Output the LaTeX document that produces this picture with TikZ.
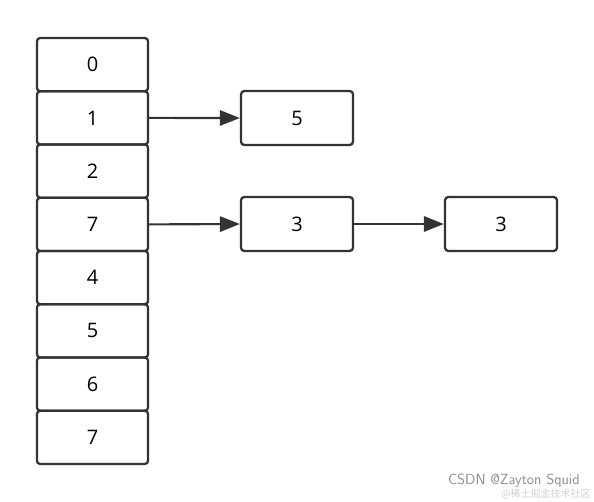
\documentclass[tikz,border=0pt]{standalone}
\usepackage{fontspec}
\setmainfont{Open Sans}
\newfontfamily\cjk{Noto Sans CJK SC}
\usetikzlibrary{arrows.meta}
\definecolor{linegray}{HTML}{333333}

\tikzset{
    cell/.style={draw=linegray, line width=1.7pt, rounded corners=2.5pt,
        minimum width=83.4pt, minimum height=39.9pt, inner sep=0pt,
        font=\fontsize{15}{17}\selectfont},
    link/.style={draw=linegray, line width=1.6pt,
        -{Triangle[length=15pt,width=11.5pt]}}
}

\begin{document}
\begin{tikzpicture}[x=0.75pt, y=-0.75pt]
    \useasboundingbox (0,0) rectangle (594,501);

    % 定义坐标 (左侧数组)
    \coordinate (P0) at (92.5,64.6);
    \coordinate (P1) at (92.5,117.9);
    \coordinate (P2) at (92.5,171.1);
    \coordinate (P3) at (92.5,224.4);
    \coordinate (P4) at (92.5,277.6);
    \coordinate (P5) at (92.5,330.9);
    \coordinate (P6) at (92.5,384.1);
    \coordinate (P7) at (92.5,437.4);
    % 链表结点
    \coordinate (Q1) at (297,118);
    \coordinate (Q2) at (297,224);
    \coordinate (Q3) at (501,224);

    % 绘制数组格子
    \node[cell] (a0) at (P0) {0};
    \node[cell] (a1) at (P1) {1};
    \node[cell] (a2) at (P2) {2};
    \node[cell] (a3) at (P3) {7};
    \node[cell] (a4) at (P4) {4};
    \node[cell] (a5) at (P5) {5};
    \node[cell] (a6) at (P6) {6};
    \node[cell] (a7) at (P7) {7};

    % 绘制链表结点
    \node[cell, minimum width=84pt, minimum height=40.5pt] (n1) at (Q1) {5};
    \node[cell, minimum width=84pt, minimum height=40.5pt] (n2) at (Q2) {3};
    \node[cell, minimum width=84pt, minimum height=40.5pt] (n3) at (Q3) {3};

    % 绘制指针
    \draw[link] (a1.east) -- (n1.west);
    \draw[link] (a3.east) -- (n2.west);
    \draw[link] (n2.east) -- (n3.west);

    % 水印
    \node[anchor=east, inner sep=0pt, text=black!45,
        font=\fontsize{11}{12}\selectfont\sffamily]
        (wm) at (580,481) {CSDN @Zayton Squid};
    \node[anchor=east, inner sep=0pt, text=black!18,
        font=\cjk\fontsize{7.5}{8}\selectfont]
        (wm2) at (591,494) {@稀土掘金技术社区};
\end{tikzpicture}
\end{document}
